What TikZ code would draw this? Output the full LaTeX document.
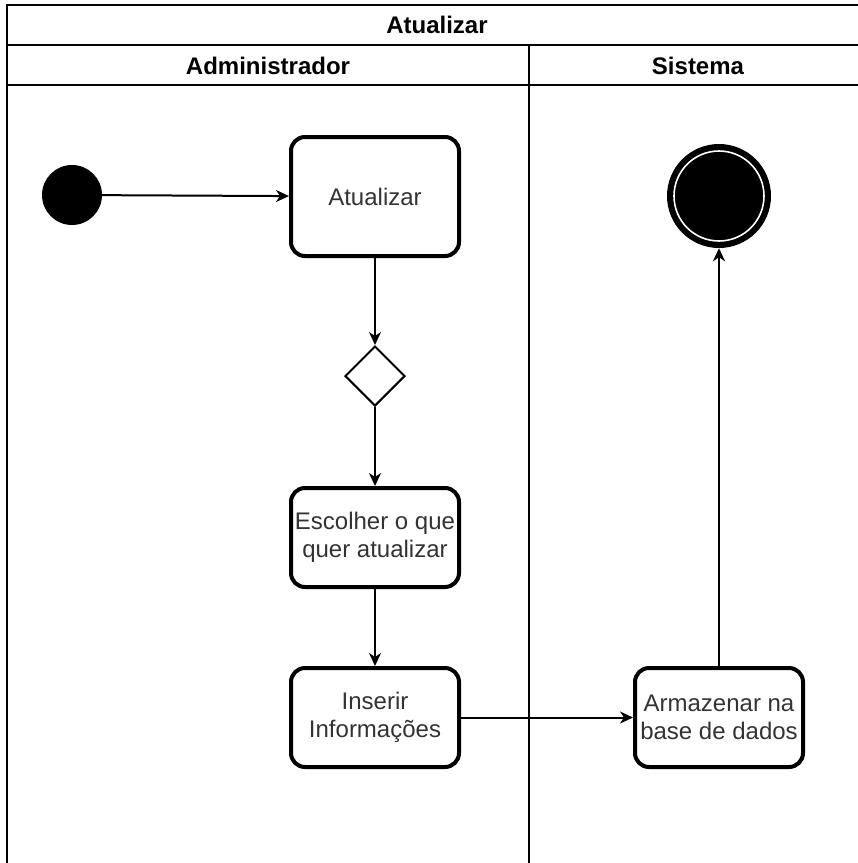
\documentclass[tikz,border=0pt]{standalone}
\usepackage{fontspec}
\setmainfont{Liberation Sans}
\usetikzlibrary{arrows.meta, shapes.geometric}
\definecolor{label}{RGB}{51,51,51}

\begin{document}
\begin{tikzpicture}[x=1pt,y=-1pt,>={Stealth[length=13pt,width=12pt,inset=4pt]},
     act/.style={draw,rounded corners=14pt,align=center,minimum width=168pt,minimum height=99pt,inner sep=2pt,
                 line width=4pt,text=label,font=\fontsize{24}{28}\selectfont},
     hdr/.style={inner sep=0pt,font=\fontsize{24}{28}\selectfont\bfseries},
     initstate/.style={circle,fill=black,minimum size=60pt,inner sep=0pt},
     endstate/.style={circle,fill=black,minimum size=104pt,inner sep=0pt,
                 path picture={\draw[white,line width=1.6pt] (path picture bounding box.center) circle (45pt);}},
     choice/.style={diamond,draw,aspect=1,minimum size=60pt,inner sep=0pt,line width=2pt}]
    \useasboundingbox (0,0) rectangle (858,863);
    % pool and lanes
    \draw[line width=2pt] (7,863) -- (7,5) -- (870,5);
    \draw[line width=2pt] (7,45) -- (870,45);
    \draw[line width=2pt] (7,85) -- (870,85);
    \draw[line width=2pt] (529,45) -- (529,863);
    \node[hdr] (pool) at (437,25) {Atualizar};
    \node[hdr] (admin) at (268,66) {Administrador};
    \node[hdr] (sys) at (698,66) {Sistema};
    % activities
    \node[initstate] (ini) at (72,195) {};
    \node[act,minimum height=119pt] (upd) at (375,196.5) {Atualizar};
    \node[choice] (dec) at (375,376) {};
    \node[act] (esc) at (375,537.5) {Escolher o que\\ quer atualizar};
    \node[act] (ins) at (375,717.5) {Inserir\\ Informações};
    \node[act] (arm) at (719,717.5) {Armazenar na\\ base de dados};
    \node[endstate] (fim) at (719,196) {};
    \draw[->,line width=2pt] (ini) -- (upd);
    \draw[->,line width=2pt] (upd) -- (dec);
    \draw[->,line width=2pt] (dec) -- (esc);
    \draw[->,line width=2pt] (esc) -- (ins);
    \draw[->,line width=2pt] (ins) -- (arm);
    \draw[->,line width=2pt] (arm) -- (fim);
  \end{tikzpicture}
\end{document}
